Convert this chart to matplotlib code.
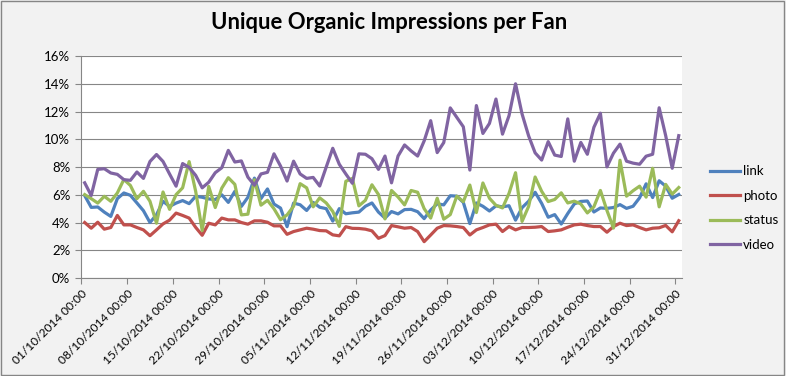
import numpy as np
import matplotlib
matplotlib.use("Agg")
from matplotlib import pyplot as plt
from matplotlib.patches import Rectangle
from matplotlib.transforms import ScaledTranslation

# daily values, 01/10/2014 .. 31/12/2014 (percent)
link = [5.94, 5.09, 5.12, 4.75, 4.44, 5.72, 6.13, 5.96, 5.41, 4.85, 4.0, 4.56, 5.53, 5.16, 5.4, 5.58,
        5.36, 5.89, 5.82, 5.7, 5.65, 6.0, 5.45, 6.25, 5.16, 5.82, 7.2, 5.72, 6.42, 5.33, 5.04, 3.7,
        5.4, 5.28, 4.87, 5.45, 5.1, 5.0, 4.1, 5.0, 4.63, 4.7, 4.75, 5.17, 5.41, 4.75, 4.32, 4.79,
        4.62, 4.93, 4.95, 4.78, 4.28, 4.9, 5.35, 5.27, 5.93, 5.9, 5.45, 3.92, 5.41, 5.17, 4.83, 5.2,
        5.13, 5.21, 4.17, 5.07, 5.53, 6.18, 5.38, 4.38, 4.57, 3.89, 4.65, 5.34, 5.52, 5.55, 4.76, 5.05,
        5.02, 5.08, 5.29, 5.02, 5.17, 5.78, 6.79, 5.8, 7.01, 6.62, 5.75, 6.02]
photo = [4.0, 3.59, 4.02, 3.52, 3.64, 4.51, 3.83, 3.83, 3.64, 3.47, 3.05, 3.47, 3.9, 4.17, 4.68, 4.51,
         4.32, 3.65, 3.08, 3.95, 3.83, 4.32, 4.19, 4.19, 4.0, 3.88, 4.12, 4.12, 4.02, 3.76, 3.76, 3.15,
         3.35, 3.47, 3.59, 3.52, 3.42, 3.4, 3.11, 3.04, 3.7, 3.58, 3.57, 3.52, 3.4, 2.86, 3.06, 3.78,
         3.69, 3.59, 3.64, 3.35, 2.62, 3.1, 3.59, 3.78, 3.76, 3.71, 3.64, 3.1, 3.47, 3.64, 3.83, 3.88,
         3.35, 3.71, 3.47, 3.64, 3.64, 3.66, 3.71, 3.35, 3.4, 3.47, 3.66, 3.83, 3.88, 3.78, 3.71, 3.71,
         3.3, 3.71, 3.95, 3.78, 3.83, 3.64, 3.47, 3.59, 3.62, 3.79, 3.33, 4.13]
status = [6.01, 5.72, 5.4, 5.89, 5.53, 6.13, 7.1, 6.67, 5.72, 6.25, 5.53, 3.95, 6.2, 4.95, 6.01, 6.5,
          8.39, 6.25, 3.42, 6.6, 5.08, 6.48, 7.23, 6.75, 4.55, 4.6, 7.08, 5.25, 5.6, 4.99, 4.2, 4.55,
          5.17, 6.8, 6.5, 5.13, 5.78, 5.41, 4.8, 3.72, 6.97, 7.18, 5.2, 5.6, 6.72, 6.02, 4.26, 6.31,
          5.84, 5.27, 6.31, 6.18, 5.0, 4.32, 5.75, 4.24, 4.57, 5.9, 5.5, 6.7, 4.72, 6.85, 5.75, 5.24,
          5.05, 6.1, 7.59, 4.08, 5.16, 7.28, 6.25, 5.51, 5.66, 6.14, 5.41, 5.54, 5.34, 4.69, 5.13, 6.31,
          4.87, 3.6, 8.49, 5.9, 6.29, 6.62, 5.83, 7.91, 5.13, 6.75, 6.05, 6.52]
video = [6.86, 5.95, 7.83, 7.88, 7.57, 7.47, 7.09, 7.04, 7.64, 7.18, 8.4, 8.9, 8.4, 7.5, 6.62, 8.25,
         7.97, 7.4, 6.5, 6.9, 7.59, 7.95, 9.2, 8.36, 8.44, 7.27, 6.69, 7.5, 7.62, 8.95, 8.07, 6.99,
         8.42, 7.5, 7.18, 7.25, 6.63, 8.0, 9.35, 8.2, 7.5, 6.83, 8.95, 8.92, 8.6, 7.83, 8.79, 6.86,
         8.79, 9.59, 9.16, 8.79, 9.88, 11.34, 9.04, 9.76, 12.26, 11.58, 10.9, 7.78, 12.43, 10.42, 11.14, 12.9,
         10.37, 11.7, 14.0, 11.82, 10.25, 9.02, 8.5, 9.83, 8.86, 8.76, 11.47, 8.42, 9.77, 8.92, 10.86, 11.88,
         8.01, 9.0, 9.65, 8.42, 8.28, 8.2, 8.78, 8.92, 12.27, 10.26, 7.91, 10.26]

tick_labels = ["01/10/2014 00:00", "08/10/2014 00:00", "15/10/2014 00:00", "22/10/2014 00:00",
               "29/10/2014 00:00", "05/11/2014 00:00", "12/11/2014 00:00", "19/11/2014 00:00",
               "26/11/2014 00:00", "03/12/2014 00:00", "10/12/2014 00:00", "17/12/2014 00:00",
               "24/12/2014 00:00", "31/12/2014 00:00"]
series = [("link", link, "#4F81BD"), ("photo", photo, "#C0504D"),
          ("status", status, "#9BBB59"), ("video", video, "#8064A2")]

plt.rcParams["font.family"] = ["Lato", "DejaVu Sans"]

fig = plt.figure(figsize=(7.86, 3.76), dpi=100, facecolor="#f2f2f2")
fig.patches.append(Rectangle((0.001, 0.002), 0.997, 0.995, transform=fig.transFigure,
                             fill=False, edgecolor="#868686", lw=1))
ax = fig.add_axes([0.1036, 0.2606, 0.7641, 0.5904])
ax.set_facecolor("white")

days = np.arange(len(link)) + 0.5
for name, vals, col in series:
    ax.plot(days, vals, color=col, lw=2.3, label=name, solid_joinstyle="round")

ax.set_xlim(0, 92)
ax.set_ylim(0, 16)
ax.set_yticks(range(0, 17, 2))
ax.set_yticklabels([f"{v}%" for v in range(0, 17, 2)])
ax.set_xticks(range(0, 92, 7))
ax.set_xticklabels(tick_labels, rotation=45, ha="right", va="top", rotation_mode="anchor",
                   fontsize=8.6)
shift = ScaledTranslation(6 / 100, -2 / 100, fig.dpi_scale_trans)
for lab in ax.get_xticklabels():
    lab.set_transform(lab.get_transform() + shift)
ax.grid(axis="y", color="#868686", lw=0.8)
ax.set_axisbelow(True)
for s in ["top", "right"]:
    ax.spines[s].set_visible(False)
for s in ["left", "bottom"]:
    ax.spines[s].set_color("#868686")
    ax.spines[s].set_linewidth(0.8)
ax.tick_params(axis="both", direction="out", length=4, width=0.8, color="#868686",
               labelcolor="black")
ax.tick_params(axis="y", pad=4, labelsize=9.5)
ax.tick_params(axis="x", pad=3)

fig.text(0.4955, 0.941, "Unique Organic Impressions per Fan", ha="center", va="center",
         fontsize=15.8, fontweight="bold")
fig.legend(loc="center left", bbox_to_anchor=(0.895, 0.447), frameon=False, fontsize=9.5,
           handlelength=2.3, handletextpad=0.2, labelspacing=0.95, borderpad=0)

fig.savefig("out.png", dpi=100, facecolor=fig.get_facecolor())
